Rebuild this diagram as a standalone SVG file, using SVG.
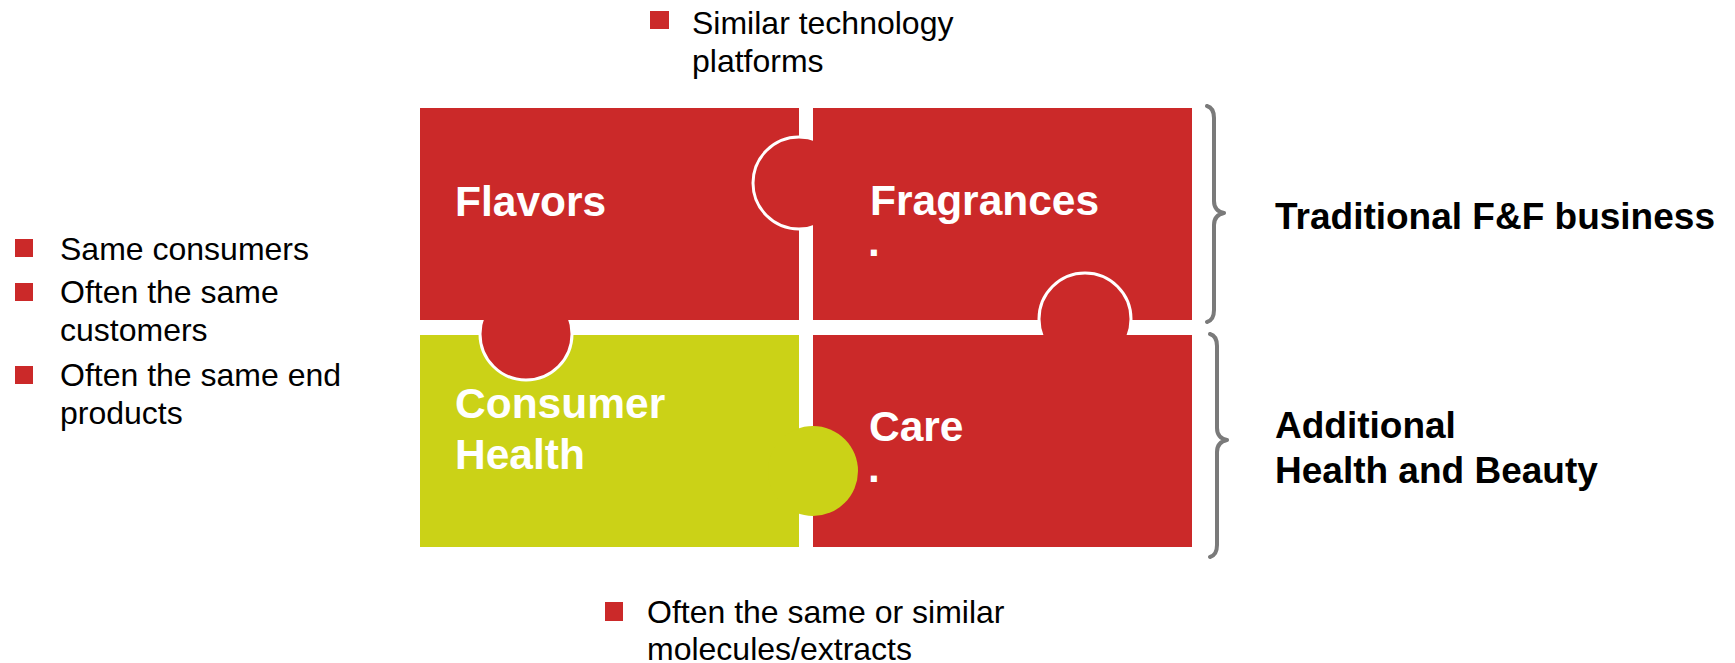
<svg xmlns="http://www.w3.org/2000/svg" width="1735" height="663" viewBox="0 0 1735 663">
<style>
.red{fill:#CB2929}
.grn{fill:#CBD217}
.knob{stroke:#FFFFFF;stroke-width:3}
.tile{font-family:"Liberation Sans",Arial,sans-serif;font-weight:bold;font-size:42.5px;fill:#FFFFFF}
.lab{font-family:"Liberation Sans",Arial,sans-serif;font-weight:bold;font-size:37px;fill:#000000}
.bt{font-family:"Liberation Sans",Arial,sans-serif;font-size:32px;fill:#000000}
.brace{fill:none;stroke:#7A7A7A;stroke-width:4;stroke-linecap:round;stroke-linejoin:round}
</style>
<rect width="1735" height="663" fill="#FFFFFF"/>
<g id="consumer-health">
<rect class="grn" x="420" y="335" width="379" height="212"/>
</g>
<g id="flavors">
<circle class="red knob" cx="526" cy="334" r="46"/>
<rect class="red" x="420" y="108" width="379" height="212"/>
<text class="tile" x="455" y="216">Flavors</text>
</g>
<g id="fragrances">
<circle class="red knob" cx="799" cy="183" r="46"/>
<rect class="red" x="813" y="108" width="379" height="212"/>
<text class="tile" x="870" y="215">Fragrances</text>
<text class="tile" x="868" y="256">.</text>
</g>
<g id="care">
<circle class="red knob" cx="1085" cy="319" r="46"/>
<rect class="red" x="813" y="335" width="379" height="212"/>
<text class="tile" x="869" y="441">Care</text>
<text class="tile" x="868" y="482">.</text>
</g>
<g id="consumer-health-knob">
<circle class="grn" cx="813" cy="471" r="45"/>
<text class="tile" x="455" y="418">Consumer</text>
<text class="tile" x="455" y="469">Health</text>
</g>
<g id="connectors">
<path class="brace" d="M1207,106 Q1214,108 1214,118 L1214,201 Q1214,211 1224,213 Q1214,215 1214,225 L1214,310 Q1214,320 1207,322"/>
<path class="brace" d="M1210,334 Q1217,336 1217,346 L1217,428 Q1217,438 1227,440 Q1217,442 1217,452 L1217,545 Q1217,555 1210,557"/>
</g>
<g id="label-traditional">
<text class="lab" x="1275" y="229">Traditional F&amp;F business</text>
</g>
<g id="label-additional">
<text class="lab" x="1275" y="438">Additional</text>
<text class="lab" x="1275" y="483">Health and Beauty</text>
</g>
<g id="bullets-top">
<rect class="red" x="650" y="11" width="19" height="18"/>
<text class="bt" x="692" y="34">Similar technology</text>
<text class="bt" x="692" y="72">platforms</text>
</g>
<g id="bullets-left">
<rect class="red" x="15" y="239" width="18" height="18"/>
<text class="bt" x="60" y="260">Same consumers</text>
<rect class="red" x="15" y="283" width="18" height="18"/>
<text class="bt" x="60" y="303">Often the same</text>
<text class="bt" x="60" y="341">customers</text>
<rect class="red" x="15" y="366" width="18" height="18"/>
<text class="bt" x="60" y="386">Often the same end</text>
<text class="bt" x="60" y="424">products</text>
</g>
<g id="bullets-bottom">
<rect class="red" x="605" y="602" width="18" height="19"/>
<text class="bt" x="647" y="623">Often the same or similar</text>
<text class="bt" x="647" y="660">molecules/extracts</text>
</g>
</svg>
